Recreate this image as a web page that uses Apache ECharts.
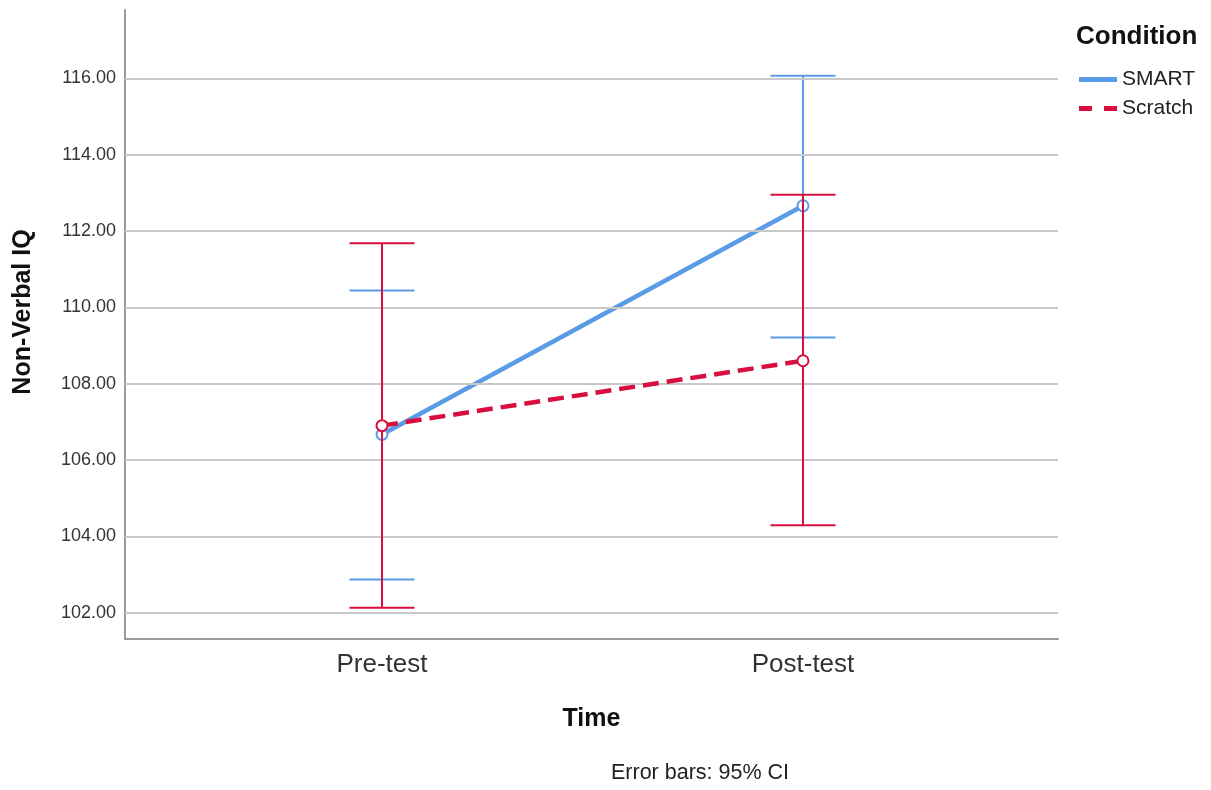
<!DOCTYPE html>
<html>
<head>
<meta charset="utf-8">
<script src="https://cdn.jsdelivr.net/npm/echarts@6/dist/echarts.min.js"></script>
<style>
html,body{margin:0;padding:0;background:#fff;}
#chart{width:1211px;height:790px;}
</style>
</head>
<body>
<div id="chart"></div>
<script>
// ---- data ----
const timeCategories = ['Pre-test', 'Post-test'];
const yTicks = [102, 104, 106, 108, 110, 112, 114, 116];
const smartMean = [106.67, 112.66];
const smartLow = [102.87, 109.21];
const smartHigh = [110.44, 116.07];
const scratchMean = [106.90, 108.60];
const scratchLow = [102.13, 104.29];
const scratchHigh = [111.68, 112.95];

const BLUE = '#5a9be6';
const RED = '#d80f3e';

function lineData(means) { return means.map((m, i) => [i + 1, m]); }
function ciData(lows, highs) { return lows.map((l, i) => [i + 1, l, highs[i]]); }

function renderCI(color) {
  return function (params, api) {
    const x = api.value(0);
    const lo = api.coord([x, api.value(1)]);
    const hi = api.coord([x, api.value(2)]);
    const hw = 32.5;
    const style = { stroke: color, lineWidth: 2, fill: null };
    return {
      type: 'group',
      children: [
        { type: 'line', shape: { x1: lo[0], y1: lo[1], x2: hi[0], y2: hi[1] }, style: style },
        { type: 'line', shape: { x1: hi[0] - hw, y1: hi[1], x2: hi[0] + hw, y2: hi[1] }, style: style },
        { type: 'line', shape: { x1: lo[0] - hw, y1: lo[1], x2: lo[0] + hw, y2: lo[1] }, style: style }
      ]
    };
  };
}

const chart = echarts.init(document.getElementById('chart'), null, { renderer: 'canvas' });
const FONT = '"Liberation Sans", Arial, sans-serif';

chart.setOption({
  animation: false,
  textStyle: { fontFamily: FONT },
  title: {
    text: 'Condition',
    left: 1071, top: 19,
    textStyle: { fontSize: 26, fontWeight: 'bold', color: '#111', fontFamily: FONT }
  },
  legend: {
    orient: 'vertical',
    left: 1074, top: 64,
    itemWidth: 38, itemHeight: 5, itemGap: 8,
    textStyle: { fontSize: 21, color: '#222', fontFamily: FONT, lineHeight: 21 },
    data: [
      { name: 'SMART', icon: 'rect', itemStyle: { color: BLUE, borderWidth: 0 } },
      { name: 'Scratch', icon: 'path://M0,0H13V5H0Z M25,0H38V5H25Z', itemStyle: { color: RED, borderWidth: 0 } }
    ]
  },
  grid: { left: 125, right: 153, top: 10, bottom: 151, containLabel: false },
  xAxis: {
    type: 'value',
    min: 0.3895, max: 2.6057,
    name: 'Time',
    nameLocation: 'middle',
    nameGap: 68,
    nameTextStyle: { fontSize: 25, fontWeight: 'bold', color: '#111', fontFamily: FONT },
    axisLine: { show: true, lineStyle: { color: '#9a9a9a', width: 2 } },
    axisTick: { show: false },
    splitLine: { show: false },
    axisLabel: {
      customValues: [1, 2],
      formatter: v => timeCategories[Math.round(v) - 1] || '',
      fontSize: 26, color: '#333', margin: 13, fontFamily: FONT
    }
  },
  yAxis: {
    type: 'value',
    min: 101.31, max: 117.79,
    name: 'Non-Verbal IQ',
    nameLocation: 'middle',
    nameGap: 89,
    nameTextStyle: { fontSize: 25, fontWeight: 'bold', color: '#111', fontFamily: FONT, padding: [0, 0, 0, 25] },
    axisLine: { show: true, lineStyle: { color: '#9a9a9a', width: 2 } },
    axisTick: { show: false },
    splitLine: { show: false },
    axisLabel: {
      customValues: yTicks,
      formatter: v => Number(v).toFixed(2),
      fontSize: 18, color: '#333', margin: 9, fontFamily: FONT
    }
  },
  graphic: [
    {
      type: 'text', left: 611, top: 762,
      style: { text: 'Error bars: 95% CI', fontSize: 21.5, fill: '#222', fontFamily: FONT }
    }
  ],
  series: [
    {
      name: 'grid', type: 'line', data: [], silent: true,
      markLine: {
        silent: true, symbol: 'none', animation: false,
        label: { show: false },
        lineStyle: { color: '#c8c8c8', width: 2, type: 'solid' },
        data: yTicks.map(t => ({ yAxis: t }))
      }
    },
    {
      name: 'SMART CI', type: 'custom', renderItem: renderCI(BLUE),
      data: ciData(smartLow, smartHigh), z: 3, silent: true
    },
    {
      name: 'SMART', type: 'line', data: lineData(smartMean), z: 4,
      color: BLUE,
      symbol: 'emptyCircle', symbolSize: 11,
      lineStyle: { width: 4.5, color: BLUE },
      itemStyle: { color: BLUE, borderWidth: 1.5 }
    },
    {
      name: 'Scratch CI', type: 'custom', renderItem: renderCI(RED),
      data: ciData(scratchLow, scratchHigh), z: 5, silent: true
    },
    {
      name: 'Scratch', type: 'line', data: lineData(scratchMean), z: 6,
      color: RED,
      symbol: 'emptyCircle', symbolSize: 11,
      lineStyle: { width: 4.5, color: RED, type: [16, 8] },
      itemStyle: { color: RED, borderWidth: 1.5 }
    }
  ]
});
</script>
</body>
</html>
